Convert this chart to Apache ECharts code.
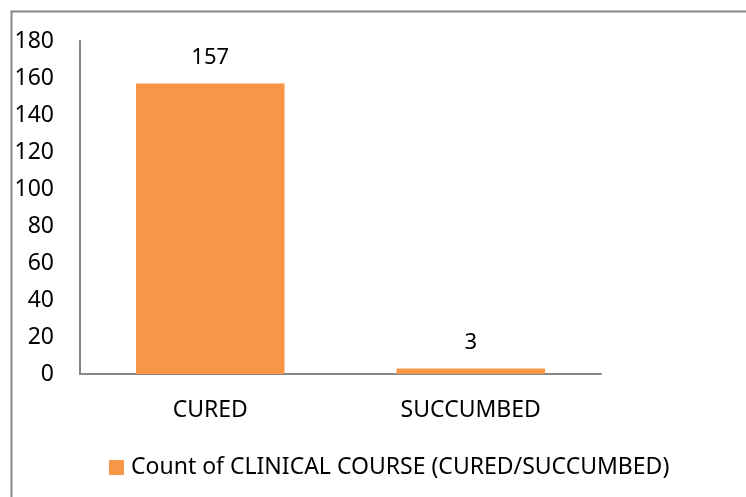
<!DOCTYPE html>
<html><head><meta charset="utf-8">
<script src="https://cdn.jsdelivr.net/npm/echarts@6/dist/echarts.min.js"></script>
<style>html,body{margin:0;padding:0;background:#fff}#c{width:746px;height:497px}</style>
</head><body><div id="c"></div>
<script>
var categories = ["CURED", "SUCCUMBED"];
var counts = [157, 3];
var seriesName = "Count of CLINICAL COURSE (CURED/SUCCUMBED)";
var yTicks = {min: 0, max: 180, interval: 20};

var chart = echarts.init(document.getElementById('c'), null, {renderer: 'canvas'});
var font = "'Noto Sans', sans-serif";
chart.setOption({
  animation: false,
  backgroundColor: '#fff',
  graphic: [{
    type: 'rect', shape: {x: 11.5, y: 11.5, width: 760, height: 520},
    style: {fill: 'none', stroke: '#888', lineWidth: 2}, silent: true
  }],
  grid: {left: 80, right: 145, top: 41, bottom: 123, containLabel: false},
  legend: {
    bottom: 13, left: 104, itemWidth: 15, itemHeight: 15, icon: 'rect',
    itemGap: 10,
    textStyle: {fontFamily: font, fontSize: 23, color: '#000', padding: [0, 0, 0, 2]},
    data: [seriesName]
  },
  xAxis: {
    type: 'category', data: categories,
    axisLine: {lineStyle: {color: '#868686', width: 2}},
    axisTick: {show: false},
    axisLabel: {fontFamily: font, fontSize: 23, color: '#000', margin: 25}
  },
  yAxis: {
    type: 'value', min: yTicks.min, max: yTicks.max, interval: yTicks.interval,
    axisLine: {show: true, lineStyle: {color: '#868686', width: 2}},
    axisTick: {show: false},
    splitLine: {show: false},
    axisLabel: {fontFamily: font, fontSize: 23, color: '#000', margin: 26}
  },
  series: [{
    name: seriesName, type: 'bar', data: counts, barWidth: '57%',
    itemStyle: {color: '#F79646'},
    label: {show: true, position: 'top', distance: 15, fontFamily: font, fontSize: 22, color: '#000'}
  }]
});
</script></body></html>
